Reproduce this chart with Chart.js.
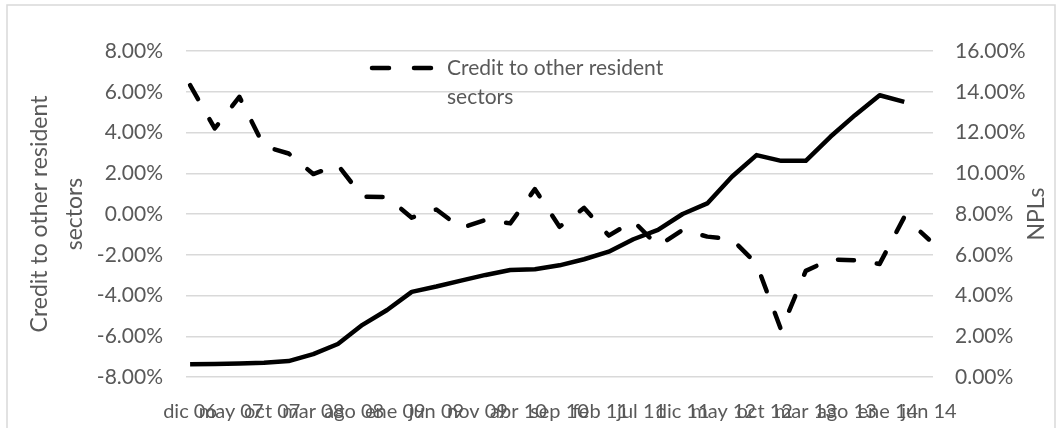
<!DOCTYPE html>
<html>
<head>
<meta charset="utf-8">
<script src="https://cdn.jsdelivr.net/npm/chart.js@4/dist/chart.umd.min.js"></script>
<style>
  html, body { margin: 0; padding: 0; background: #fff; }
  #wrap { width: 1059px; height: 428px; }
</style>
</head>
<body>
<div id="wrap"><canvas id="myChart" width="1059" height="428"></canvas></div>
<script>
// month names used on the date axis
const monthNames = ["ene", "feb", "mar", "abr", "may", "jun", "jul", "ago", "sep", "oct", "nov", "dic"];

// quarterly observations, dic 06 .. jun 14
const quarters = [
  "dic 06", "mar 07", "jun 07", "sep 07", "dic 07", "mar 08", "jun 08", "sep 08",
  "dic 08", "mar 09", "jun 09", "sep 09", "dic 09", "mar 10", "jun 10", "sep 10",
  "dic 10", "mar 11", "jun 11", "sep 11", "dic 11", "mar 12", "jun 12", "sep 12",
  "dic 12", "mar 13", "jun 13", "sep 13", "dic 13", "mar 14", "jun 14"
];

// credit to other resident sectors, % (left axis)
const credit = [
  6.32, 4.20, 5.75, 3.33, 2.97, 1.96, 2.40, 0.85,
  0.83, -0.18, 0.22, -0.69, -0.29, -0.46, 1.22, -0.63,
  0.30, -1.06, -0.35, -1.57, -0.78, -1.11, -1.23, -2.45,
  -5.69, -2.79, -2.23, -2.27, -2.45, -0.15, -1.25
];

// NPL ratio, % (right axis), last value is mar 14
const npls = [
  0.63, 0.64, 0.66, 0.70, 0.78, 1.12, 1.62, 2.56,
  3.29, 4.18, 4.44, 4.73, 5.01, 5.25, 5.29, 5.48,
  5.78, 6.15, 6.76, 7.22, 8.00, 8.52, 9.83, 10.89,
  10.61, 10.61, 11.79, 12.85, 13.83, 13.50
];

const creditLabel = ["Credit to other resident", "sectors"];
const nplLabel = "NPLs";

// monthly date axis from dic 06 to jun 14, a label every 5 months
const months = [];
for (let m = 11, y = 6; months.length < 91; m++) {
  if (m === 12) { m = 0; y++; }
  months.push(monthNames[m] + " " + String(y).padStart(2, "0"));
}

const grey = "#595959";
const FONT = "Lato";

const toPoints = (arr) => arr.map((v, i) => ({ x: quarters[i], y: v }));

// frame, legend and axis titles
const extras = {
  id: "extras",
  beforeDraw(chart) {
    const ctx = chart.ctx;
    ctx.save();
    ctx.strokeStyle = "#d9d9d9";
    ctx.lineWidth = 1.5;
    ctx.strokeRect(7, 5, 1048, 440);
    ctx.restore();
  },
  afterDraw(chart) {
    const ctx = chart.ctx;
    ctx.save();
    // legend
    ctx.strokeStyle = "#000";
    ctx.lineWidth = 4.5;
    ctx.lineCap = "round";
    ctx.beginPath();
    ctx.moveTo(372, 68); ctx.lineTo(389, 68);
    ctx.moveTo(414, 68); ctx.lineTo(431, 68);
    ctx.stroke();
    ctx.fillStyle = grey;
    ctx.font = "21px " + FONT;
    ctx.textBaseline = "middle";
    ctx.textAlign = "left";
    ctx.fillText(creditLabel[0], 447, 68);
    ctx.fillText(creditLabel[1], 447, 97);

    // left axis title
    ctx.font = "23px " + FONT;
    ctx.textAlign = "center";
    ctx.save();
    ctx.translate(40, 214);
    ctx.rotate(-Math.PI / 2);
    ctx.fillText(creditLabel[0], 0, 0);
    ctx.fillText(creditLabel[1], 0, 35);
    ctx.restore();

    // right axis title
    ctx.save();
    ctx.translate(1037, 214);
    ctx.rotate(-Math.PI / 2);
    ctx.fillText(nplLabel, 0, 0);
    ctx.restore();
    ctx.restore();
  }
};

const ctx = document.getElementById("myChart").getContext("2d");
new Chart(ctx, {
  type: "line",
  data: {
    labels: months,
    datasets: [
      {
        label: creditLabel.join(" "),
        data: toPoints(credit),
        yAxisID: "y",
        borderColor: "#000",
        borderWidth: 4.5,
        borderDash: [16, 23],
        borderCapStyle: "round",
        borderJoinStyle: "round",
        pointRadius: 0,
        tension: 0
      },
      {
        label: nplLabel,
        data: toPoints(npls),
        yAxisID: "y1",
        borderColor: "#000",
        borderWidth: 4.5,
        borderJoinStyle: "round",
        pointRadius: 0,
        tension: 0
      }
    ]
  },
  options: {
    responsive: false,
    animation: false,
    layout: { padding: { top: 51, bottom: 0, left: 0, right: 0 } },
    plugins: {
      legend: { display: false },
      tooltip: { enabled: false }
    },
    scales: {
      x: {
        type: "category",
        offset: true,
        grid: { display: false, drawTicks: false },
        border: { display: false },
        ticks: {
          autoSkip: false,
          maxRotation: 0,
          minRotation: 0,
          padding: 23,
          color: grey,
          font: { family: FONT, size: 20 },
          callback: (v, i) => (i % 5 === 0 ? months[i] : "")
        },
        afterFit: (scale) => { scale.height = 51; }
      },
      y: {
        position: "left",
        min: -8,
        max: 8,
        grid: { color: "#d9d9d9", lineWidth: 1.5, drawTicks: false },
        border: { display: false },
        ticks: {
          stepSize: 2,
          padding: 23,
          color: grey,
          font: { family: FONT, size: 21 },
          callback: (v) => v.toFixed(2) + "%"
        },
        afterFit: (scale) => { scale.width = 186; }
      },
      y1: {
        position: "right",
        min: 0,
        max: 16,
        grid: { drawOnChartArea: false, drawTicks: false },
        border: { display: false },
        ticks: {
          stepSize: 2,
          padding: 22,
          color: grey,
          font: { family: FONT, size: 21 },
          callback: (v) => v.toFixed(2) + "%"
        },
        afterFit: (scale) => { scale.width = 126; }
      }
    }
  },
  plugins: [extras]
});
</script>
</body>
</html>
